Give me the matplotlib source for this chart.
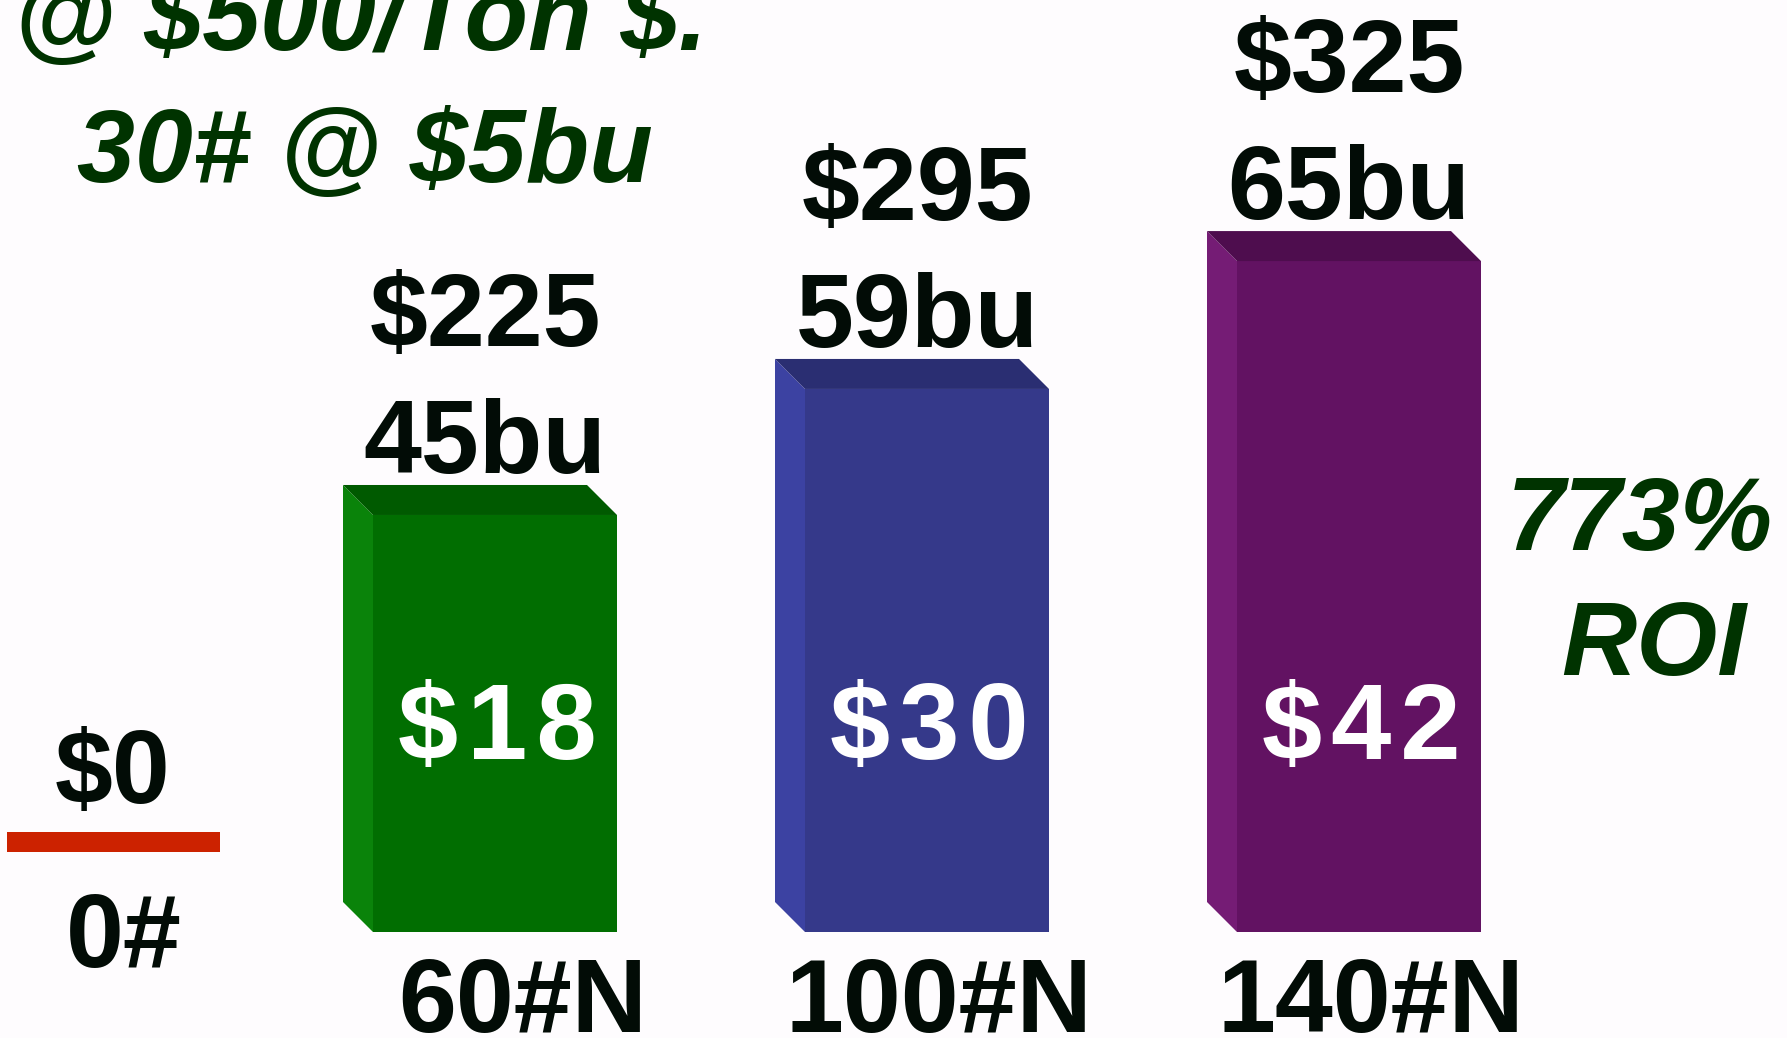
import matplotlib
matplotlib.use("Agg")
import matplotlib.pyplot as plt
from matplotlib.patches import Polygon

plt.rcParams['font.family'] = ['Liberation Sans', 'DejaVu Sans']

# ---- data ----
nitrogen_labels = ["60#N", "100#N", "140#N"]
fert_cost = ["$18", "$30", "$42"]
gross_return = ["$225", "$295", "$325"]
yield_labels = ["45bu", "59bu", "65bu"]
bar_heights = [45.0, 58.6, 72.4]          # drawn bar heights (plot units)
front_colors = ["#016e01", "#35398a", "#621262"]
side_colors = ["#0a830a", "#3c42a2", "#751c75"]
top_colors = ["#005a00", "#2a2e72", "#4e0d4e"]
zero_labels = ["$0", "0#"]
roi_lines = ["773%", "ROI"]
price_lines = ["@ $500/Ton $.", "30# @ $5bu"]

W, H = 1787, 1038
fig = plt.figure(figsize=(W / 100, H / 100), dpi=100)
ax = fig.add_axes([0, 0, 1, 1])
ax.set_axis_off()

# scale: 432 px per category, 9.267 px per plot unit, baseline 932 px from top
px_x, px_y, x0px, base_px = 432.0, 9.267, 63.0, 932.0
ax.set_xlim(-x0px / px_x, (W - x0px) / px_x)
ax.set_ylim((base_px - H) / px_y, base_px / px_y)

dx = 30 / px_x   # 3D depth offset (left)
dy = 30 / px_y   # 3D depth offset (up)
width = 244 / px_x
xs = [1, 2, 3]
bottom_shift = [28, 12, 12]   # px, horizontal nudge of the N-rate labels

dark = "#020c06"
green_txt = "#003300"
fs = 75

for x, h, fc, sc, tc in zip(xs, bar_heights, front_colors, side_colors, top_colors):
    l, r = x - width / 2, x + width / 2
    ax.bar(x, h, width=width, color=fc, edgecolor="none", zorder=2)
    side = Polygon([(l, 0), (l, h), (l - dx, h + dy), (l - dx, dy)],
                   closed=True, facecolor=sc, edgecolor="none", zorder=2)
    top = Polygon([(l, h), (r, h), (r - dx, h + dy), (l - dx, h + dy)],
                  closed=True, facecolor=tc, edgecolor="none", zorder=2)
    ax.add_patch(side)
    ax.add_patch(top)

for i, x in enumerate(xs):
    h = bar_heights[i]
    xc = x - 10 / px_x
    yb = h + dy + 12 / px_y
    ax.text(xc, yb, yield_labels[i], ha="center", va="baseline",
            fontsize=fs, fontweight="bold", color=dark)
    ax.text(xc, yb + 127 / px_y, gross_return[i], ha="center", va="baseline",
            fontsize=fs, fontweight="bold", color=dark, parse_math=False)
    ax.text(x + 2 / px_x, 173 / px_y, "\u200a".join(fert_cost[i]), ha="center",
            va="baseline", fontsize=78, fontweight="bold", color="white",
            zorder=3, parse_math=False)
    ax.text(x + bottom_shift[i] / px_x, -100 / px_y, nitrogen_labels[i],
            ha="center", va="baseline", fontsize=fs, fontweight="bold",
            color=dark)

# zero-N reference
xz = (113 - x0px) / px_x
ax.plot([(7 - x0px) / px_x, (220 - x0px) / px_x], [90 / px_y, 90 / px_y],
        color="#cc2200", lw=20 * 0.72, solid_capstyle="butt")
ax.text(xz, (base_px - 803) / px_y, zero_labels[0], ha="center", va="baseline",
        fontsize=fs, fontweight="bold", color=dark, parse_math=False)
ax.text(xz + 11 / px_x, (base_px - 967) / px_y, zero_labels[1], ha="center",
        va="baseline", fontsize=fs, fontweight="bold", color=dark)

# ROI note
ax.text(1640 / W, 1 - 550 / H, roi_lines[0], transform=ax.transAxes,
        ha="center", va="baseline", fontsize=fs, fontweight="bold",
        style="italic", color=green_txt)
ax.text(1654 / W, 1 - 675 / H, roi_lines[1], transform=ax.transAxes,
        ha="center", va="baseline", fontsize=fs, fontweight="bold",
        style="italic", color=green_txt)

# price note
ax.text(361 / W, 1 - 50 / H, price_lines[0], transform=ax.transAxes,
        ha="center", va="baseline", fontsize=fs, fontweight="bold",
        style="italic", color=green_txt, parse_math=False)
ax.text(365 / W, 1 - 182 / H, price_lines[1], transform=ax.transAxes,
        ha="center", va="baseline", fontsize=fs, fontweight="bold",
        style="italic", color=green_txt, parse_math=False)

fig.savefig("out.png", dpi=100, facecolor="#fefcfe")
